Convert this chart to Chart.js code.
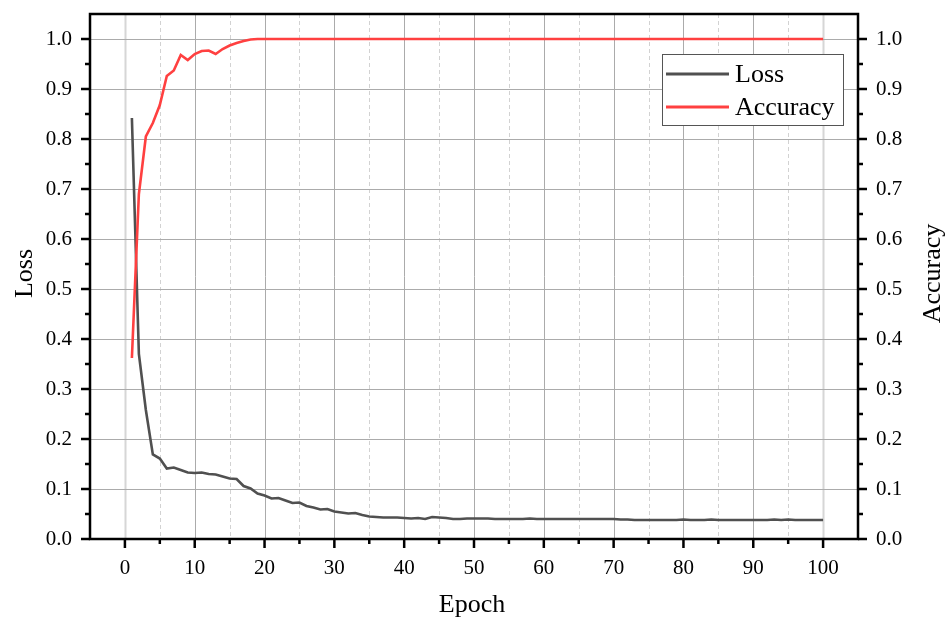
<!DOCTYPE html>
<html>
<head>
<meta charset="utf-8">
<script src="https://cdn.jsdelivr.net/npm/chart.js@4.4.0/dist/chart.umd.min.js"></script>
<style>
html, body { margin: 0; padding: 0; background: #fff; }
</style>
</head>
<body>
<canvas id="c" width="951" height="621"></canvas>
<script>
// epoch numbers
const epochs = [
  1, 2, 3, 4, 5, 6, 7, 8, 9, 10,
  11, 12, 13, 14, 15, 16, 17, 18, 19, 20,
  21, 22, 23, 24, 25, 26, 27, 28, 29, 30,
  31, 32, 33, 34, 35, 36, 37, 38, 39, 40,
  41, 42, 43, 44, 45, 46, 47, 48, 49, 50,
  51, 52, 53, 54, 55, 56, 57, 58, 59, 60,
  61, 62, 63, 64, 65, 66, 67, 68, 69, 70,
  71, 72, 73, 74, 75, 76, 77, 78, 79, 80,
  81, 82, 83, 84, 85, 86, 87, 88, 89, 90,
  91, 92, 93, 94, 95, 96, 97, 98, 99, 100
];

// loss per epoch
const lossValues = [
  0.842, 0.370, 0.258, 0.169, 0.161, 0.141, 0.143, 0.138, 0.133, 0.132,
  0.133, 0.130, 0.129, 0.125, 0.121, 0.120, 0.106, 0.101, 0.091, 0.087,
  0.081, 0.082, 0.077, 0.072, 0.073, 0.066, 0.063, 0.059, 0.060, 0.055,
  0.053, 0.051, 0.052, 0.048, 0.045, 0.044, 0.043, 0.043, 0.043, 0.042,
  0.041, 0.042, 0.040, 0.044, 0.043, 0.042, 0.040, 0.040, 0.041, 0.041,
  0.041, 0.041, 0.040, 0.040, 0.040, 0.040, 0.040, 0.041, 0.040, 0.040,
  0.040, 0.040, 0.040, 0.040, 0.040, 0.040, 0.040, 0.040, 0.040, 0.040,
  0.039, 0.039, 0.038, 0.038, 0.038, 0.038, 0.038, 0.038, 0.038, 0.039,
  0.038, 0.038, 0.038, 0.039, 0.038, 0.038, 0.038, 0.038, 0.038, 0.038,
  0.038, 0.038, 0.039, 0.038, 0.039, 0.038, 0.038, 0.038, 0.038, 0.038
];

// accuracy per epoch
const accuracyValues = [
  0.362, 0.690, 0.805, 0.832, 0.868, 0.926, 0.937, 0.968, 0.958, 0.970,
  0.976, 0.977, 0.970, 0.980, 0.987, 0.992, 0.996, 0.999, 1.000, 1.000,
  1.000, 1.000, 1.000, 1.000, 1.000, 1.000, 1.000, 1.000, 1.000, 1.000,
  1.000, 1.000, 1.000, 1.000, 1.000, 1.000, 1.000, 1.000, 1.000, 1.000,
  1.000, 1.000, 1.000, 1.000, 1.000, 1.000, 1.000, 1.000, 1.000, 1.000,
  1.000, 1.000, 1.000, 1.000, 1.000, 1.000, 1.000, 1.000, 1.000, 1.000,
  1.000, 1.000, 1.000, 1.000, 1.000, 1.000, 1.000, 1.000, 1.000, 1.000,
  1.000, 1.000, 1.000, 1.000, 1.000, 1.000, 1.000, 1.000, 1.000, 1.000,
  1.000, 1.000, 1.000, 1.000, 1.000, 1.000, 1.000, 1.000, 1.000, 1.000,
  1.000, 1.000, 1.000, 1.000, 1.000, 1.000, 1.000, 1.000, 1.000, 1.000
];

// tick positions
const xMajorTicks = [0, 10, 20, 30, 40, 50, 60, 70, 80, 90, 100];
const xMinorTicks = [5, 15, 25, 35, 45, 55, 65, 75, 85, 95];
const yMajorTicks = [0, 0.1, 0.2, 0.3, 0.4, 0.5, 0.6, 0.7, 0.8, 0.9, 1.0];
const yMinorTicks = [0.05, 0.15, 0.25, 0.35, 0.45, 0.55, 0.65, 0.75, 0.85, 0.95];

const FONT = "'Liberation Serif', 'Times New Roman', serif";

// grid, frame, ticks, titles and legend drawn by hand (Origin look)
const originStyle = {
  id: 'originStyle',
  beforeDatasetsDraw(chart) {
    const { ctx, chartArea: a, scales } = chart;
    const x = scales.x, y = scales.y;
    ctx.save();
    ctx.lineWidth = 1;
    // minor vertical dashed
    ctx.strokeStyle = '#d2d2d2';
    ctx.setLineDash([4, 3]);
    xMinorTicks.forEach(v => {
      const px = Math.round(x.getPixelForValue(v)) + 0.5;
      ctx.beginPath(); ctx.moveTo(px, a.top); ctx.lineTo(px, a.bottom); ctx.stroke();
    });
    ctx.setLineDash([]);
    // major vertical
    xMajorTicks.forEach(v => {
      const px = Math.round(x.getPixelForValue(v)) + 0.5;
      ctx.strokeStyle = (v === 0 || v === 100) ? '#d6d6d6' : '#ababab';
      ctx.lineWidth = (v === 0 || v === 100) ? 2 : 1;
      ctx.beginPath(); ctx.moveTo(px, a.top); ctx.lineTo(px, a.bottom); ctx.stroke();
    });
    // major horizontal
    ctx.lineWidth = 1;
    ctx.strokeStyle = '#ababab';
    yMajorTicks.forEach(v => {
      const py = Math.round(y.getPixelForValue(v)) + 0.5;
      ctx.beginPath(); ctx.moveTo(a.left, py); ctx.lineTo(a.right, py); ctx.stroke();
    });
    ctx.restore();
  },
  afterDatasetsDraw(chart) {
    const { ctx, chartArea: a, scales } = chart;
    const x = scales.x, y = scales.y;
    ctx.save();
    // frame
    ctx.strokeStyle = '#000';
    ctx.lineWidth = 2.5;
    ctx.strokeRect(a.left, a.top, a.right - a.left, a.bottom - a.top);
    // ticks
    ctx.lineWidth = 2.5;
    ctx.beginPath();
    xMajorTicks.forEach(v => {
      const px = x.getPixelForValue(v);
      ctx.moveTo(px, a.bottom); ctx.lineTo(px, a.bottom + 9);
    });
    xMinorTicks.forEach(v => {
      const px = x.getPixelForValue(v);
      ctx.moveTo(px, a.bottom); ctx.lineTo(px, a.bottom + 5);
    });
    yMajorTicks.forEach(v => {
      const py = y.getPixelForValue(v);
      ctx.moveTo(a.left, py); ctx.lineTo(a.left - 9, py);
      ctx.moveTo(a.right, py); ctx.lineTo(a.right + 9, py);
    });
    yMinorTicks.forEach(v => {
      const py = y.getPixelForValue(v);
      ctx.moveTo(a.left, py); ctx.lineTo(a.left - 5, py);
      ctx.moveTo(a.right, py); ctx.lineTo(a.right + 5, py);
    });
    ctx.stroke();

    // axis titles
    ctx.fillStyle = '#000';
    ctx.font = '26px ' + FONT;
    ctx.textAlign = 'center';
    ctx.textBaseline = 'middle';
    ctx.fillText('Epoch', (a.left + a.right) / 2 - 2, 605);
    const midY = (a.top + a.bottom) / 2 - 3;
    ctx.save();
    ctx.translate(25, midY);
    ctx.rotate(-Math.PI / 2);
    ctx.fillText('Loss', 0, 0);
    ctx.restore();
    ctx.save();
    ctx.translate(933, midY);
    ctx.rotate(-Math.PI / 2);
    ctx.fillText('Accuracy', 0, 0);
    ctx.restore();

    // legend
    const bx = 662, by = 54, bw = 181, bh = 71;
    ctx.fillStyle = '#fff';
    ctx.fillRect(bx, by, bw, bh);
    ctx.strokeStyle = '#555';
    ctx.lineWidth = 1;
    ctx.strokeRect(bx + 0.5, by + 0.5, bw, bh);
    chart.data.datasets.forEach((ds, i) => {
      const ly = by + 20 + i * 33;
      ctx.strokeStyle = ds.borderColor;
      ctx.lineWidth = 3;
      ctx.beginPath(); ctx.moveTo(bx + 4, ly); ctx.lineTo(bx + 67, ly); ctx.stroke();
      ctx.fillStyle = '#000';
      ctx.textAlign = 'left';
      ctx.fillText(ds.label, bx + 73, ly + 1);
    });
    ctx.restore();
  }
};

const lossPoints = epochs.map((e, i) => ({ x: e, y: lossValues[i] }));
const accPoints = epochs.map((e, i) => ({ x: e, y: accuracyValues[i] }));

function yLabel(v) {
  return Math.round(v * 100) % 10 === 0 ? v.toFixed(1) : '';
}

// fixed box sizes so the plot area lands where the reference has it
function fixBox(size, key) {
  return s => {
    s[key] = size;
    s.paddingTop = 0; s.paddingBottom = 0;
    s.paddingLeft = 0; s.paddingRight = 0;
  };
}

new Chart(document.getElementById('c'), {
  type: 'line',
  data: {
    datasets: [
      {
        label: 'Loss',
        data: lossPoints,
        yAxisID: 'y',
        borderColor: '#505050',
        borderWidth: 2.6,
        pointRadius: 0,
        tension: 0,
        order: 2
      },
      {
        label: 'Accuracy',
        data: accPoints,
        yAxisID: 'y1',
        borderColor: '#ff4040',
        borderWidth: 2.6,
        pointRadius: 0,
        tension: 0,
        order: 1
      }
    ]
  },
  options: {
    responsive: false,
    animation: false,
    devicePixelRatio: 1,
    layout: { padding: { top: 14, left: 0, right: 0, bottom: 0 } },
    plugins: {
      legend: { display: false },
      tooltip: { enabled: false }
    },
    scales: {
      x: {
        type: 'linear',
        min: -5,
        max: 105,
        grid: { drawOnChartArea: false, drawTicks: false },
        border: { display: false },
        ticks: {
          stepSize: 5,
          autoSkip: false,
          maxRotation: 0,
          padding: 17,
          color: '#000',
          font: { family: FONT, size: 21 },
          callback: v => (v >= 0 && v <= 100 && v % 10 === 0) ? String(v) : ''
        },
        afterFit: fixBox(82, 'height')
      },
      y: {
        position: 'left',
        min: 0,
        max: 1.05,
        grid: { drawOnChartArea: false, drawTicks: false },
        border: { display: false },
        ticks: {
          stepSize: 0.05,
          autoSkip: false,
          padding: 18,
          color: '#000',
          font: { family: FONT, size: 21 },
          callback: yLabel
        },
        afterFit: fixBox(90, 'width')
      },
      y1: {
        position: 'right',
        min: 0,
        max: 1.05,
        grid: { drawOnChartArea: false, drawTicks: false },
        border: { display: false },
        ticks: {
          stepSize: 0.05,
          autoSkip: false,
          padding: 18,
          color: '#000',
          font: { family: FONT, size: 21 },
          callback: yLabel
        },
        afterFit: fixBox(93, 'width')
      }
    }
  },
  plugins: [originStyle]
});
</script>
</body>
</html>
